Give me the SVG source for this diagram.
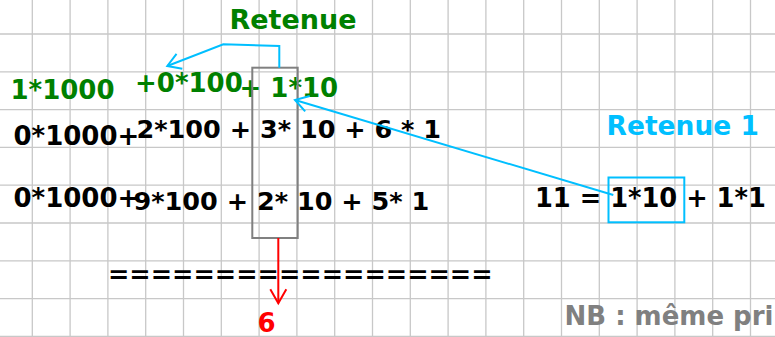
<svg xmlns="http://www.w3.org/2000/svg" width="775" height="337" viewBox="0 0 775 337">
<style>
.t{font-family:"DejaVu Sans",sans-serif;font-weight:bold;font-size:26px}
.s{font-size:25.5px}
.k{fill:#000}
.g{fill:#008000}
.b{fill:#00bfff}
.r{fill:#ff0000}
.n{fill:#808080}
.grid{stroke:#c8c8c8;stroke-width:1.3;fill:none}
.bl{stroke:#00bfff;stroke-width:2;fill:none}
.rd{stroke:#ff0000;stroke-width:2;fill:none}
</style>
<defs>
<marker id="ab" markerUnits="userSpaceOnUse" viewBox="-16 -10 20 20" refX="0" refY="0" markerWidth="20" markerHeight="20" orient="auto">
<path d="M-13,-8 L0,0 L-13,8" fill="none" stroke="#00bfff" stroke-width="2"/>
</marker>
<marker id="ar" markerUnits="userSpaceOnUse" viewBox="-16 -10 20 20" refX="0" refY="0" markerWidth="20" markerHeight="20" orient="auto">
<path d="M-14,-8 L0,0 L-14,8" fill="none" stroke="#ff0000" stroke-width="2"/>
</marker>
</defs>
<rect width="775" height="337" fill="#fff"/>
<path class="grid" d="M32.3,0V337M70.1,0V337M107.9,0V337M145.7,0V337M183.5,0V337M221.3,0V337M259.1,0V337M296.9,0V337M334.7,0V337M372.5,0V337M410.3,0V337M448.1,0V337M485.9,0V337M523.7,0V337M561.5,0V337M599.3,0V337M637.1,0V337M674.9,0V337M712.7,0V337M750.5,0V337M0,34H775M0,71.8H775M0,109.6H775M0,147.4H775M0,185.2H775M0,223H775M0,260.8H775M0,298.6H775M0,336.4H775"/>
<g id="retenue-label"><text class="t g" x="229.5" y="29.3" style="font-size:27px">Retenue</text></g>
<g id="carry-1000"><text class="t g" x="10.5" y="99">1*1000</text></g>
<g id="carry-100"><text class="t g" x="135" y="91.5">+0*100</text></g>
<g id="carry-10"><text class="t g" x="239.5" y="97">+ 1*10</text></g>
<g id="row1-a"><text class="t k" x="13.5" y="145">0*1000+</text></g>
<g id="row1-b"><text class="t s k" x="136.5" y="137.5">2*100 + 3* 10 + 6 * 1</text></g>
<g id="row2-a"><text class="t k" x="13.5" y="206.7">0*1000+</text></g>
<g id="row2-b"><text class="t s k" x="133.5" y="210">9*100 + 2* 10 + 5* 1</text></g>
<g id="tens-column"><rect x="252.3" y="67.7" width="45.4" height="170.3" fill="none" stroke="#808080" stroke-width="2"/></g>
<g id="separator"><text class="t s k" x="108" y="283">==================</text></g>
<g id="result-6"><text class="t r" x="257.5" y="332">6</text></g>
<g id="retenue-1"><text class="t b" x="606.5" y="135" style="font-size:26.5px">Retenue 1</text></g>
<g id="eleven"><text class="t k" x="535" y="206.7" style="font-size:25.7px">11 = 1*10 + 1*1</text></g>
<g id="eleven-box"><rect x="608.5" y="177.5" width="75.8" height="44.8" fill="none" stroke="#00bfff" stroke-width="2"/></g>
<g id="note"><text class="t n" x="564.5" y="325">NB : même pri</text></g>
<g id="connectors">
<path class="bl" d="M279.3,67.7V46L223.3,44.3L167.3,66" marker-end="url(#ab)"/>
<path class="bl" d="M613.3,195L295,100" marker-end="url(#ab)"/>
<path class="rd" d="M278.3,238V303.3" marker-end="url(#ar)"/>
</g>
</svg>
